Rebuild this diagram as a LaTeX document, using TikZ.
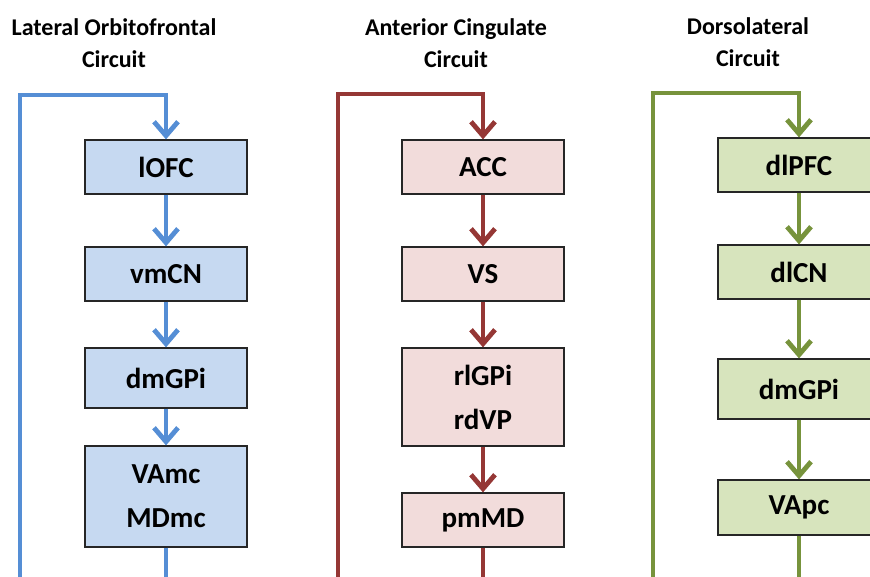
\documentclass[tikz,border=0pt]{standalone}
\usepackage{fontspec}
\setmainfont{Carlito}
\usetikzlibrary{arrows.meta}
\definecolor{circBleu}{RGB}{85,142,213}
\definecolor{circBleuFond}{RGB}{198,217,241}
\definecolor{circRouge}{RGB}{149,55,53}
\definecolor{circRougeFond}{RGB}{242,220,219}
\definecolor{circVert}{RGB}{119,147,60}
\definecolor{circVertFond}{RGB}{215,228,189}

\begin{document}
\begin{tikzpicture}[
  x=1pt, y=-1pt,
  boite/.style={draw=black!85, line width=1.2pt, minimum width=162pt, minimum height=54pt,
                align=center, inner sep=0pt, font=\fontsize{29}{44}\selectfont\bfseries},
  ttl/.style={align=center, inner sep=0pt, font=\fontsize{24}{32}\selectfont\bfseries},
  fil/.style={line width=4.8pt, -{Straight Barb[length=14pt,width=24pt]}}
]
\useasboundingbox (0,0) rectangle (870,576);
\clip (0,0) rectangle (870,576);

% ---- circuit orbitofrontal lateral ----
\node[ttl] (tLat) at (114,43) {Lateral Orbitofrontal\\Circuit};
\node[boite, fill=circBleuFond] (lofc) at (166,167)   {lOFC};
\node[boite, fill=circBleuFond] (vmcn) at (166,274)   {vmCN};
\node[boite, fill=circBleuFond, minimum height=60pt] (dmgpiA) at (166,378) {dmGPi};
\node[boite, fill=circBleuFond, minimum height=101pt] (vamc) at (166,496.5) {VAmc\\MDmc};

\draw[fil, circBleu] (lofc) -- (vmcn);
\draw[fil, circBleu] (vmcn) -- (dmgpiA);
\draw[fil, circBleu] (dmgpiA) -- (vamc);
\coordinate (bleuBas)  at (20,640);
\coordinate (bleuHaut) at (20,95);
\draw[fil, circBleu] (vamc.south) |- (bleuBas) -- (bleuHaut) -| (lofc.north);

% ---- circuit cingulaire anterieur ----
\node[ttl] (tCing) at (456,43) {Anterior Cingulate\\Circuit};
\node[boite, fill=circRougeFond] (acc) at (483,167)  {ACC};
\node[boite, fill=circRougeFond] (vs)  at (483,274)  {VS};
\node[boite, fill=circRougeFond, minimum height=98pt] (rlgpi) at (483,397) {rlGPi\\rdVP};
\node[boite, fill=circRougeFond] (pmmd) at (483,520) {pmMD};

\draw[fil, circRouge] (acc) -- (vs);
\draw[fil, circRouge] (vs) -- (rlgpi);
\draw[fil, circRouge] (rlgpi) -- (pmmd);
\coordinate (rougeBas)  at (338,640);
\coordinate (rougeHaut) at (338,94);
\draw[fil, circRouge] (pmmd.south) |- (rougeBas) -- (rougeHaut) -| (acc.north);

% ---- circuit dorsolateral ----
\node[ttl] (tDors) at (748,42) {Dorsolateral\\Circuit};
\node[boite, fill=circVertFond] (dlpfc) at (799,165)  {dlPFC};
\node[boite, fill=circVertFond] (dlcn)  at (799,272)  {dlCN};
\node[boite, fill=circVertFond, minimum height=60pt] (dmgpiB) at (799,389) {dmGPi};
\node[boite, fill=circVertFond, minimum height=55pt] (vapc) at (799,507.5) {VApc};

\draw[fil, circVert] (dlpfc) -- (dlcn);
\draw[fil, circVert] (dlcn) -- (dmgpiB);
\draw[fil, circVert] (dmgpiB) -- (vapc);
\coordinate (vertBas)  at (653,640);
\coordinate (vertHaut) at (653,93);
\draw[fil, circVert] (vapc.south) |- (vertBas) -- (vertHaut) -| (dlpfc.north);

\end{tikzpicture}
\end{document}
